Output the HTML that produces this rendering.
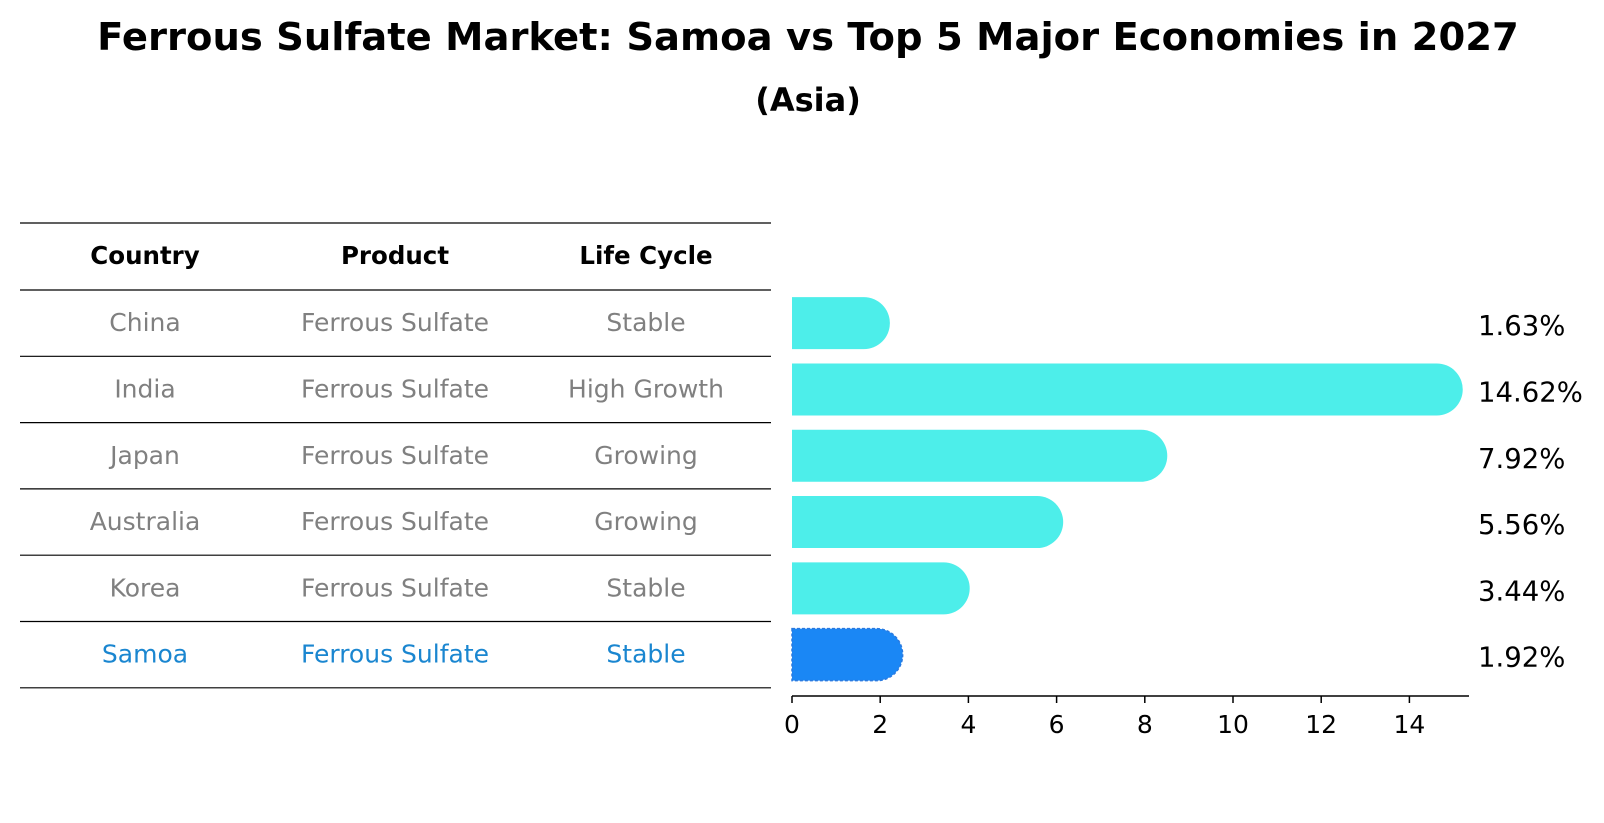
<!DOCTYPE html>
<html><head><meta charset="utf-8"><style>
html,body{margin:0;padding:0;background:#fff}
svg{display:block;font-family:"DejaVu Sans","Liberation Sans",sans-serif}
</style></head><body>
<svg id="chart" width="1604" height="823" viewBox="0 0 1604 823" xmlns="http://www.w3.org/2000/svg">
<text x="808" y="50" text-anchor="middle" font-size="38.5" font-weight="bold">Ferrous Sulfate Market: Samoa vs Top 5 Major Economies in 2027</text>
<text x="808" y="111" text-anchor="middle" font-size="32" font-weight="bold">(Asia)</text>
<g id="table"></g>
<g id="bars"></g>
</svg>
<script>
const countries=["China","India","Japan","Australia","Korea","Samoa"];
const products=["Ferrous Sulfate","Ferrous Sulfate","Ferrous Sulfate","Ferrous Sulfate","Ferrous Sulfate","Ferrous Sulfate"];
const lifeCycles=["Stable","High Growth","Growing","Growing","Stable","Stable"];
const values=[1.63,14.62,7.92,5.56,3.44,1.92];
const ticks=[0,2,4,6,8,10,12,14];
const NS="http://www.w3.org/2000/svg";
function mk(tag,attrs,parent){const e=document.createElementNS(NS,tag);for(const k in attrs)e.setAttribute(k,attrs[k]);parent.appendChild(e);return e;}
const table=document.getElementById('table'),bars=document.getElementById('bars');
const x0=792,pxPer=44.1,axisY=696;
const xs=v=>x0+v*pxPer;
const rowTop=290,rowH=66.3;
const yc=i=>rowTop+rowH*(i+0.5);
const colX=[145,395,646];
for(let i=0;i<=countries.length+1;i++){
  const y=i===0?223:rowTop+rowH*(i-1);
  const l=mk('line',{x1:20,x2:771,y1:y,y2:y,stroke:'#000','stroke-width':1.2},table);
  
  
}
const heads=["Country","Product","Life Cycle"];
heads.forEach((h,j)=>{
  const t=mk('text',{x:colX[j],y:264,'text-anchor':'middle','font-size':24.5,'font-weight':'bold'},table);
  t.textContent=h;
  
  
});
countries.forEach((c,i)=>{
  const col=i===countries.length-1?'#1a86d0':'#808080';
  [c,products[i],lifeCycles[i]].forEach((s,j)=>{
    const t=mk('text',{x:colX[j],y:yc(i)+8,'text-anchor':'middle','font-size':25,fill:col},table);
    t.textContent=s;
    
    
  });
});
const bh=52,r=26;
values.forEach((v,i)=>{
  const isS=i===values.length-1;
  const xe=xs(v),y=yc(i)-bh/2;
  const d=`M${x0},${y} H${xe} A${r},${r} 0 0 1 ${xe},${y+bh} H${x0} Z`;
  const p=mk('path',{d:d,fill:isS?'#1a87f5':'#4deeea'},bars);
  if(isS){p.setAttribute('stroke','#2a7ae0');p.setAttribute('stroke-dasharray','3,2');p.setAttribute('stroke-width','1.5');}
  
  
  const t=mk('text',{x:1478,y:yc(i)+12,'font-size':27.5},bars);
  t.textContent=v.toFixed(2)+'%';
  
  
});
const ax=mk('line',{x1:x0,x2:1469,y1:axisY,y2:axisY,stroke:'#000','stroke-width':1.5},bars);


ticks.forEach(tv=>{
  const tl=mk('line',{x1:xs(tv),x2:xs(tv),y1:axisY,y2:axisY+7,stroke:'#000','stroke-width':1.5},bars);
  
  
  const t=mk('text',{x:xs(tv),y:axisY+37,'text-anchor':'middle','font-size':25},bars);
  t.textContent=tv;
  
  
});
</script>
</body></html>
